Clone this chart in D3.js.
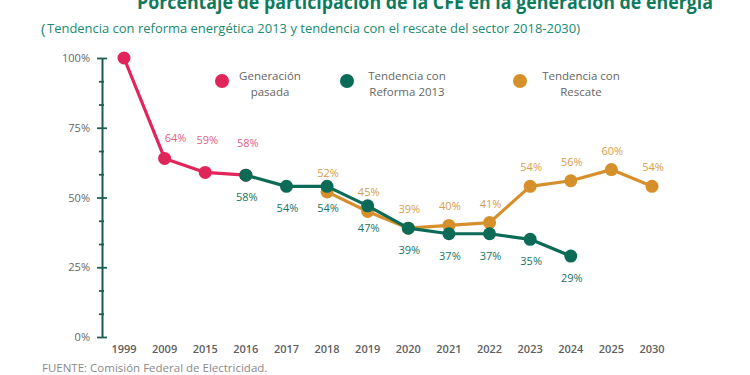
<!DOCTYPE html>
<html>
<head>
<meta charset="utf-8">
<script src="https://cdn.jsdelivr.net/npm/d3@7"></script>
<style>
  body { margin: 0; background: #fff; }
  svg { display: block; font-family: "Open Sans", sans-serif; }
</style>
</head>
<body>
<svg width="750" height="375"></svg>
<script>
// **** Data ****
var years = ["1999", "2009", "2015", "2016", "2017", "2018", "2019", "2020", "2021", "2022", "2023", "2024", "2025", "2030"];

var pastYears = ["1999", "2009", "2015", "2016"];
var pastValues = [100, 64, 59, 58];

var reformYears = ["2016", "2017", "2018", "2019", "2020", "2021", "2022", "2023", "2024"];
var reformValues = [58, 54, 54, 47, 39, 37, 37, 35, 29];

var rescueYears = ["2018", "2019", "2020", "2021", "2022", "2023", "2024", "2025", "2030"];
var rescueValues = [52, 45, 39, 40, 41, 54, 56, 60, 54];

var yTicks = [0, 25, 50, 75, 100];

var legendLabels = [["Generación", "pasada"], ["Tendencia con", "Reforma 2013"], ["Tendencia con", "Rescate"]];

// **** Scales ****
var xScale = d3.scalePoint().domain(years).range([124, 652]);
var yScale = d3.scaleLinear().domain([0, 100]).range([337, 58]);

var pink = "#e1245a", teal = "#0b6b57", orange = "#d5902c";
var pinkText = "#e45e82", tealText = "#17735f", orangeText = "#d89c4c";

var svg = d3.select('svg');

// **** Titles ****
svg.append("text")
    .attr("x", 137).attr("y", 9)
    .attr("font-size", 20).attr("font-weight", "bold")
    .attr("fill", "#0f7a5c")
    .attr("textLength", 576).attr("lengthAdjust", "spacingAndGlyphs")
    .text("Porcentaje de participación de la CFE en la generación de energía");

svg.append("text")
    .attr("x", 41).attr("y", 34)
    .attr("font-size", 15).attr("fill", "#1a8a70")
    .text("(");

svg.append("text")
    .attr("x", 47).attr("y", 33)
    .attr("font-size", 12.5).attr("fill", "#1a8a70")
    .attr("textLength", 533).attr("lengthAdjust", "spacingAndGlyphs")
    .text("Tendencia con reforma energética 2013 y tendencia con el rescate del sector 2018-2030)");

// **** Axes ****
var yAxis = svg.append('g').attr('class', 'y axis')
    .attr('transform', 'translate(102,0)')
    .call(d3.axisLeft(yScale).tickValues(d3.range(0, 101, 25 / 3)).tickSize(0).tickFormat(""));

yAxis.select(".domain").attr("stroke", "#1d5e52").attr("stroke-width", 2);

yAxis.selectAll(".tick line")
    .attr("stroke", "#1d5e52").attr("stroke-width", 1.8)
    .attr("x1", function (d) { return Math.round(d) % 25 === 0 ? -5 : -3; })
    .attr("x2", function (d) { return Math.round(d) % 25 === 0 ? 5 : 2; });

svg.append('g').selectAll("text").data(yTicks).enter().append("text")
    .attr("x", 90).attr("y", function (d) { return yScale(d) + 4; })
    .attr("text-anchor", "end").attr("font-size", 11).attr("fill", "#666")
    .text(function (d) { return d + "%"; });

svg.append('g').selectAll("text").data(years).enter().append("text")
    .attr("x", function (d) { return xScale(d); }).attr("y", 353)
    .attr("text-anchor", "middle").attr("font-size", 11)
    .attr("font-weight", 600).attr("fill", "#606060")
    .text(function (d) { return d; });

svg.append("text")
    .attr("x", 42).attr("y", 372)
    .attr("font-size", 11.5).attr("fill", "#8a8a8a")
    .text("FUENTE: Comisión Federal de Electricidad.");

// **** Series ****
function drawSeries(xs, vs, color) {
    var pts = xs.map(function (x, i) { return [xScale(x), yScale(vs[i])]; });
    var g = svg.append('g');
    g.append("path")
        .attr("d", d3.line()(pts))
        .attr("fill", "none").attr("stroke", color)
        .attr("stroke-width", 3.2).attr("stroke-linejoin", "round");
    g.selectAll("circle").data(pts).enter().append("circle")
        .attr("cx", function (d) { return d[0]; })
        .attr("cy", function (d) { return d[1]; })
        .attr("r", 6.5).attr("fill", color);
}

function drawLabels(xs, vs, color, dx, dy) {
    svg.append('g').selectAll("text").data(xs).enter().append("text")
        .attr("x", function (d, i) { return xScale(d) + dx(i); })
        .attr("y", function (d, i) { return yScale(vs[i]) + dy(i); })
        .attr("text-anchor", "middle").attr("font-size", 11)
        .attr("font-weight", 500).attr("fill", color)
        .text(function (d, i) { return i === 0 && color === pinkText ? "" : vs[i] + "%"; });
}

drawSeries(pastYears, pastValues, pink);
drawSeries(rescueYears, rescueValues, orange);
drawSeries(reformYears, reformValues, teal);

drawLabels(pastYears, pastValues, pinkText,
    function (i) { return i === 1 ? 11 : 2; },
    function (i) { return i === 1 ? -16 : -28; });
drawLabels(reformYears, reformValues, tealText,
    function () { return 1; }, function () { return 26; });
drawLabels(rescueYears, rescueValues, orangeText,
    function () { return 1; }, function () { return -15; });

// **** Legend ****
var legendX = [222, 347, 520];
var legendTextX = [270, 407, 581];
var legendColors = [pink, teal, orange];

legendLabels.forEach(function (lines, i) {
    svg.append("circle")
        .attr("cx", legendX[i]).attr("cy", 81).attr("r", 7)
        .attr("fill", legendColors[i]);
    lines.forEach(function (line, j) {
        svg.append("text")
            .attr("x", legendTextX[i]).attr("y", 80 + j * 16)
            .attr("text-anchor", "middle").attr("font-size", 11.5)
            .attr("fill", "#666")
            .text(line);
    });
});
</script>
</body>
</html>
